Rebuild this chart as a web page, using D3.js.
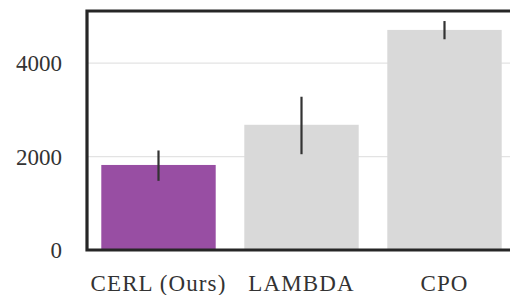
<!DOCTYPE html>
<html>
<head>
<meta charset="utf-8">
<script src="https://cdn.jsdelivr.net/npm/d3@7"></script>
<style>
  body { margin: 0; background: #fff; }
  svg { display: block; }
  .tick text { font-family: "Liberation Serif", serif; fill: #333; }
</style>
</head>
<body>
<div id="chart"></div>
<script>
// data
var methods = ["CERL (Ours)", "LAMBDA", "CPO"];
var means = [1820, 2680, 4710];
var errLow = [1480, 2050, 4510];
var errHigh = [2130, 3280, 4900];
var barColors = ["#984ea3", "#d9d9d9", "#d9d9d9"];
var yTicks = [0, 2000, 4000];

var W = 510, H = 295;
var margin = {top: 11, right: -6, bottom: 45, left: 87};
var width = W - margin.left - margin.right,
    height = H - margin.top - margin.bottom;

var svg = d3.select("#chart").append("svg")
    .attr("width", W)
    .attr("height", H);

var g = svg.append("g")
    .attr("transform", "translate(" + margin.left + "," + margin.top + ")");

var x = d3.scaleBand()
    .domain(methods)
    .range([0, width])
    .paddingInner(0.2)
    .paddingOuter(0.1);

var y = d3.scaleLinear()
    .domain([0, 5115])
    .range([height, 0]);

// grid
g.append("g")
  .selectAll("line")
  .data(yTicks.slice(1))
  .enter().append("line")
    .attr("x1", 0)
    .attr("x2", width)
    .attr("y1", function(d) { return y(d); })
    .attr("y2", function(d) { return y(d); })
    .attr("stroke", "#e3e3e3")
    .attr("stroke-width", 1.3);

// bars
g.append("g")
  .selectAll("rect")
  .data(methods)
  .enter().append("rect")
    .attr("x", function(d) { return x(d); })
    .attr("width", x.bandwidth())
    .attr("y", function(d, i) { return y(means[i]); })
    .attr("height", function(d, i) { return height - y(means[i]); })
    .attr("fill", function(d, i) { return barColors[i]; });

// error bars
g.append("g")
  .selectAll("line")
  .data(methods)
  .enter().append("line")
    .attr("x1", function(d) { return x(d) + x.bandwidth() / 2; })
    .attr("x2", function(d) { return x(d) + x.bandwidth() / 2; })
    .attr("y1", function(d, i) { return y(errLow[i]); })
    .attr("y2", function(d, i) { return y(errHigh[i]); })
    .attr("stroke", "#333")
    .attr("stroke-width", 2.2);

// axes
var yAxis = g.append("g")
    .call(d3.axisLeft(y).tickValues(yTicks).tickSize(0).tickPadding(25).tickFormat(d3.format("d")));
yAxis.select(".domain").remove();
yAxis.selectAll("text").style("font-size", "23px").attr("dy", "0.34em");

var xAxis = g.append("g")
    .attr("transform", "translate(0," + height + ")")
    .call(d3.axisBottom(x).tickSize(0).tickPadding(41));
xAxis.select(".domain").remove();
xAxis.selectAll("text").style("font-size", "23px").style("letter-spacing", "1.1px").attr("dy", "0");

// spines (left, top, bottom)
var sp = g.append("g").attr("stroke", "#262626").attr("stroke-width", 3.2).attr("fill", "none");
sp.append("path")
    .attr("d", "M" + (width + 10) + "," + 0 + "H0V" + height + "H" + (width + 10))
    .attr("stroke-linecap", "square");
</script>
</body>
</html>
